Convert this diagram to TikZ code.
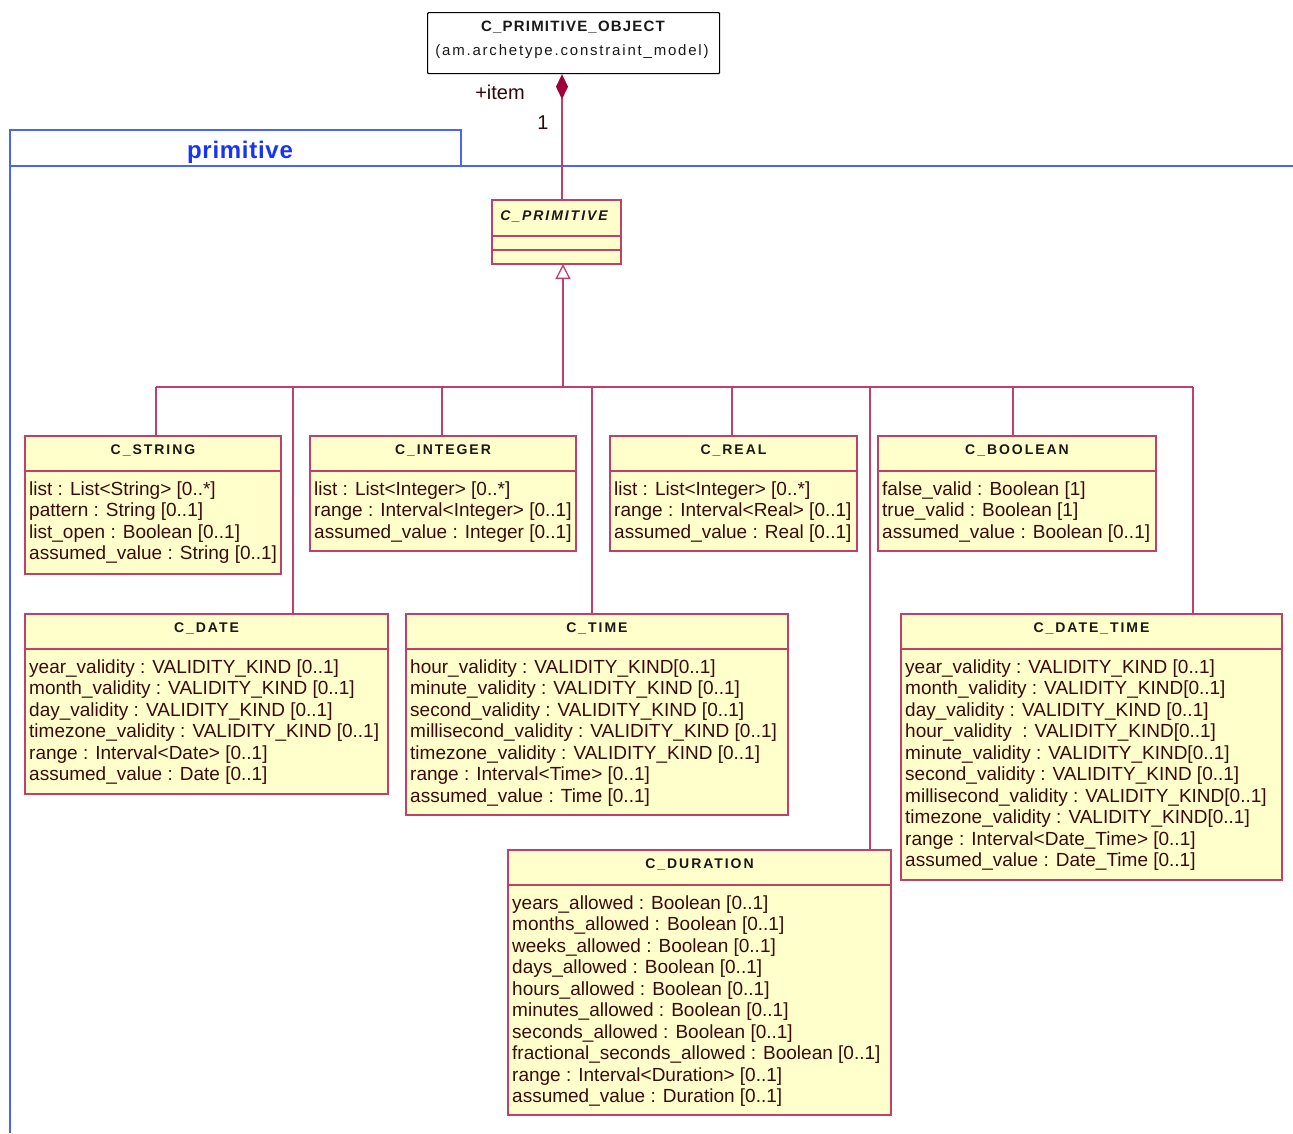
\documentclass[tikz,border=0pt]{standalone}
\usepackage{fontspec}
\setmainfont{Liberation Sans}
\newfontfamily\spacedfont[LetterSpace=14]{Liberation Sans}
\newfontfamily\headfont[LetterSpace=8]{Liberation Sans}
\newfontfamily\subfont[LetterSpace=12]{Liberation Sans}
\newfontfamily\pkgfont[LetterSpace=3]{Liberation Sans}
\usetikzlibrary{arrows.meta}

\definecolor{umlline}{HTML}{C0406A}
\definecolor{umlfill}{HTML}{FFFFCC}
\definecolor{umldiamond}{HTML}{A00038}
\definecolor{umltext}{HTML}{3C0A0A}
\definecolor{pkgline}{HTML}{4A66F0}
\definecolor{pkgtext}{HTML}{1834F0}

\tikzset{
  cbox/.style={draw=umlline, fill=umlfill, line width=1.3pt, inner sep=0pt, outer sep=0pt},
  cline/.style={draw=umlline, line width=1.3pt},
  ctitle/.style={inner sep=0pt, text=black!90, font=\spacedfont\bfseries\fontsize{14}{16}\selectfont},
  cattr/.style={inner sep=0pt, text=umltext, font=\fontsize{19}{21}\selectfont},
  conn/.style={draw=umlline, line width=1.3pt},
  pkg/.style={draw=pkgline, line width=1.4pt},
}

% class box: name, x1, y1, x2, y2, separator y, title, attribute list
\newcommand\classbox[8]{%
  \node[cbox, anchor=north west, minimum width={#4-#2}, minimum height={#5-#3}] (#1) at (#2,#3) {};
  \draw[cline] (#2,#6) -- (#4,#6);
  \node[ctitle, anchor=base] (#1-title) at ({(#2+#4)/2},{#3+18}) {#7};
  \foreach \txt [count=\k] in {#8}
    \node[cattr, anchor=base west] (#1-a\k) at ({#2+4},{#6+24.5+(\k-1)*21.45}) {\txt};
}

\begin{document}
\begin{tikzpicture}[x=1pt, y=-1pt]
  \fill[white] (0,0) rectangle (1293,1133);
  \useasboundingbox (0,0) rectangle (1293,1133);

  % package frame
  \draw[pkg] (10,1133) -- (10,130) -- (461,130) -- (461,166);
  \draw[pkg] (10,166) -- (1293,166);
  \node[inner sep=0pt, anchor=base, text=pkgtext, font=\pkgfont\bfseries\fontsize{24}{28}\selectfont] (pkgname) at (240,158) {primitive};

  % owner class
  \node[draw=black, fill=white, line width=1.2pt, rounded corners=1pt, anchor=north west,
        minimum width=292, minimum height=61, inner sep=0pt] (cpo) at (427,12) {};
  \node[inner sep=0pt, anchor=base, text=black!90, font=\headfont\bfseries\fontsize{15}{17}\selectfont] (cpo-title) at (573,31) {C\_PRIMITIVE\_OBJECT};
  \node[inner sep=0pt, anchor=base, text=black!90, font=\subfont\fontsize{15}{17}\selectfont] (cpo-pkg) at (572,55) {(am.archetype.constraint\_model)};

  % abstract class
  \node[cbox, anchor=north west, minimum width=129, minimum height=64] (prim) at (492,200) {};
  \draw[cline] (492,236) -- (621,236);
  \draw[cline] (492,250) -- (621,250);
  \node[ctitle, anchor=base, font=\spacedfont\bfseries\itshape\fontsize{14}{16}\selectfont] (prim-title) at (554,220) {C\_PRIMITIVE};

  % composition
  \coordinate (ax) at (562,200);
  \draw[conn, {Diamond[fill=umldiamond, color=umldiamond, length=25pt, width=12pt]}-] (ax |- cpo.south) -- (ax |- prim.north);
  \node[inner sep=0pt, text=umltext!80!black, font=\fontsize{20}{22}\selectfont] (role) at (500,92) {+item};
  \node[inner sep=0pt, text=umltext!80!black, font=\fontsize{20}{22}\selectfont] (mult) at (543,123) {1};

  % subclasses
  \classbox{cstring}{25}{436}{281}{574}{471}{C\_STRING}{%
    {list : List<String> [0..*]},
    {pattern : String [0..1]},
    {list\_open : Boolean [0..1]},
    {assumed\_value : String [0..1]}}
  \classbox{cinteger}{310}{436}{576}{551}{471}{C\_INTEGER}{%
    {list : List<Integer> [0..*]},
    {range : Interval<Integer> [0..1]},
    {assumed\_value : Integer [0..1]}}
  \classbox{creal}{610}{436}{857}{551}{471}{C\_REAL}{%
    {list : List<Integer> [0..*]},
    {range : Interval<Real> [0..1]},
    {assumed\_value : Real [0..1]}}
  \classbox{cboolean}{878}{436}{1156}{551}{471}{C\_BOOLEAN}{%
    {false\_valid : Boolean [1]},
    {true\_valid : Boolean [1]},
    {assumed\_value : Boolean [0..1]}}
  \classbox{cdate}{25}{614}{388}{794}{649}{C\_DATE}{%
    {year\_validity : VALIDITY\_KIND [0..1]},
    {month\_validity : VALIDITY\_KIND [0..1]},
    {day\_validity : VALIDITY\_KIND [0..1]},
    {timezone\_validity : VALIDITY\_KIND [0..1]},
    {range : Interval<Date> [0..1]},
    {assumed\_value : Date [0..1]}}
  \classbox{ctime}{406}{614}{788}{815}{649}{C\_TIME}{%
    {hour\_validity : VALIDITY\_KIND[0..1]},
    {minute\_validity : VALIDITY\_KIND [0..1]},
    {second\_validity : VALIDITY\_KIND [0..1]},
    {millisecond\_validity : VALIDITY\_KIND [0..1]},
    {timezone\_validity : VALIDITY\_KIND [0..1]},
    {range : Interval<Time> [0..1]},
    {assumed\_value : Time [0..1]}}
  \classbox{cdatetime}{901}{614}{1282}{880}{649}{C\_DATE\_TIME}{%
    {year\_validity : VALIDITY\_KIND [0..1]},
    {month\_validity : VALIDITY\_KIND[0..1]},
    {day\_validity : VALIDITY\_KIND [0..1]},
    {hour\_validity \ : VALIDITY\_KIND[0..1]},
    {minute\_validity : VALIDITY\_KIND[0..1]},
    {second\_validity : VALIDITY\_KIND [0..1]},
    {millisecond\_validity : VALIDITY\_KIND[0..1]},
    {timezone\_validity : VALIDITY\_KIND[0..1]},
    {range : Interval<Date\_Time> [0..1]},
    {assumed\_value : Date\_Time [0..1]}}
  \classbox{cduration}{508}{850}{891}{1115}{885}{C\_DURATION}{%
    {years\_allowed : Boolean [0..1]},
    {months\_allowed : Boolean [0..1]},
    {weeks\_allowed : Boolean [0..1]},
    {days\_allowed : Boolean [0..1]},
    {hours\_allowed : Boolean [0..1]},
    {minutes\_allowed : Boolean [0..1]},
    {seconds\_allowed : Boolean [0..1]},
    {fractional\_seconds\_allowed : Boolean [0..1]},
    {range : Interval<Duration> [0..1]},
    {assumed\_value : Duration [0..1]}}

  % generalization tree
  \coordinate (bus) at (563,387);
  \coordinate (b1) at (156,387);
  \coordinate (b2) at (293,387);
  \coordinate (b3) at (442,387);
  \coordinate (b4) at (592,387);
  \coordinate (b5) at (732,387);
  \coordinate (b6) at (870,387);
  \coordinate (b7) at (1013,387);
  \coordinate (b8) at (1193,387);
  \draw[conn] (b1) -- (b8);
  \draw[conn, -{Triangle[open, fill=white, length=15pt, width=15pt]}] (bus) -- (bus |- prim.south);
  \draw[conn] (b1) -- (b1 |- cstring.north);
  \draw[conn] (b2) -- (b2 |- cdate.north);
  \draw[conn] (b3) -- (b3 |- cinteger.north);
  \draw[conn] (b4) -- (b4 |- ctime.north);
  \draw[conn] (b5) -- (b5 |- creal.north);
  \draw[conn] (b6) -- (b6 |- cduration.north);
  \draw[conn] (b7) -- (b7 |- cboolean.north);
  \draw[conn] (b8) -- (b8 |- cdatetime.north);
\end{tikzpicture}
\end{document}
